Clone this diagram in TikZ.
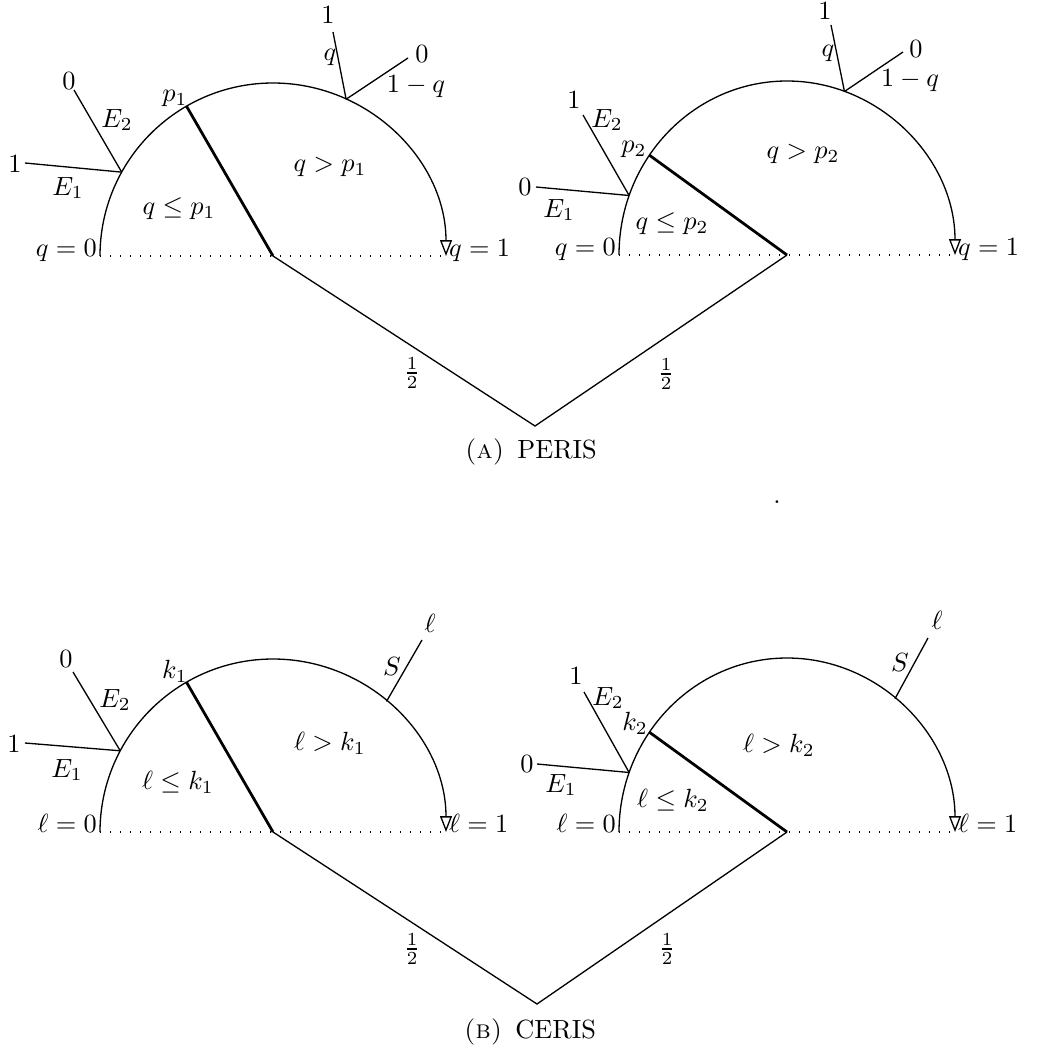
\documentclass[tikz,border=0pt]{standalone}
\usetikzlibrary{calc,arrows.meta}
\begin{document}
\begin{tikzpicture}[x=0.38pt,y=-0.38pt,
  edge/.style={draw,line width=0.5pt},
  cutline/.style={draw,line width=1.05pt},
  baseline line/.style={draw,line width=0.55pt,dash pattern=on 0.55pt off 3.25pt},
  arcarrow/.style={draw,line width=0.5pt,-{Triangle[open,length=6pt,width=4.5pt]}},
  lbl/.style={inner sep=0pt},
  endl/.style={inner sep=1pt},
  captext/.style={inner sep=0pt}]
\useasboundingbox (0,0) rectangle (1044,1053);

% ================= (A) PERIS =================
% --- left tree
\coordinate (C1) at (273,256);
\coordinate (L1) at ($(C1)+(-180:173)$);
\coordinate (R1) at ($(C1)+(0:173)$);
\coordinate (P1) at ($(C1)+(-120:173)$);
\coordinate (EA) at ($(C1)+(-151:173)$);
\coordinate (QA) at ($(C1)+(-65:173)$);
\coordinate (ea1) at (25,163);
\coordinate (ea2) at (74,90);
\coordinate (qa1) at (333,32);
\coordinate (qa2) at (408,58);
\draw[arcarrow] (L1) arc[start angle=-180,end angle=0,radius=173];
\draw[baseline line] (L1) -- (R1);
\draw[cutline] (C1) -- (P1);
\draw[edge] (EA) -- (ea1);
\draw[edge] (EA) -- (ea2);
\draw[edge] (QA) -- (qa1);
\draw[edge] (QA) -- (qa2);
\node[lbl] (na1) at (15,164) {$1$};
\node[lbl] (na2) at (69,81) {$0$};
\node[lbl] (nE1a) at (68,188) {$E_1$};
\node[lbl] (nE2a) at (117,120) {$E_2$};
\node[lbl] (np1) at (175,98) {$p_1$};
\node[lbl] (nle1) at (179,209) {$q\le p_1$};
\node[lbl] (ngt1) at (330,167) {$q>p_1$};
\node[lbl] (nqa1) at (328,15) {$1$};
\node[lbl] (nqla) at (330,57) {$q$};
\node[lbl] (nqa2) at (422,54) {$0$};
\node[lbl] (nqlb) at (416,87) {$1-q$};
\node[endl,anchor=base east] (q0a) at (L1) {$q=0$};
\node[endl,anchor=base west] (q1a) at (R1) {$q=1$};

% --- right tree
\coordinate (C2) at (787,255);
\coordinate (L2) at ($(C2)+(-180:168 and 174)$);
\coordinate (R2) at ($(C2)+(0:168 and 174)$);
\coordinate (P2) at ($(C2)+(-145:168 and 174)$);
\coordinate (EB) at ($(C2)+(-160:168 and 174)$);
\coordinate (QB) at ($(C2)+(-70:168 and 174)$);
\coordinate (eb1) at (536,187);
\coordinate (eb2) at (583,115);
\coordinate (qb1) at (831,25);
\coordinate (qb2) at (903,52);
\draw[arcarrow] (L2) arc[start angle=-180,end angle=0,x radius=168,y radius=174];
\draw[baseline line] (L2) -- (R2);
\draw[cutline] (C2) -- (P2);
\draw[edge] (EB) -- (eb1);
\draw[edge] (EB) -- (eb2);
\draw[edge] (QB) -- (qb1);
\draw[edge] (QB) -- (qb2);
\node[lbl] (nb1) at (525,187) {$0$};
\node[lbl] (nb2) at (574,100) {$1$};
\node[lbl] (nE1b) at (559,210) {$E_1$};
\node[lbl] (nE2b) at (607,120) {$E_2$};
\node[lbl] (np2) at (634,149) {$p_2$};
\node[lbl] (nle2) at (672,224) {$q\le p_2$};
\node[lbl] (ngt2) at (803,154) {$q>p_2$};
\node[lbl] (nqb1) at (825,11) {$1$};
\node[lbl] (nqlc) at (828,53) {$q$};
\node[lbl] (nqb2) at (916,49) {$0$};
\node[lbl] (nqld) at (910,81) {$1-q$};
\node[endl,anchor=base east] (q0b) at (L2) {$q=0$};
\node[endl,anchor=base west] (q1b) at (R2) {$q=1$};

% --- root
\coordinate (V1) at (535,426);
\draw[edge] (C1) -- (V1) -- (C2);
\node[lbl] (hA1) at (412,373) {$\frac{1}{2}$};
\node[lbl] (hA2) at (666,374) {$\frac{1}{2}$};
\node[captext] (capA) at (531,452) {{\scshape (a)}\enskip PERIS};
\node[lbl] (dot) at (777,502) {.};

% ================= (B) CERIS =================
% --- left tree
\coordinate (C3) at (273,832);
\coordinate (L3) at ($(C3)+(-180:173)$);
\coordinate (R3) at ($(C3)+(0:173)$);
\coordinate (K1) at ($(C3)+(-120:173)$);
\coordinate (EC) at ($(C3)+(-152:173)$);
\coordinate (SC) at ($(C3)+(-49:173)$);
\coordinate (ec1) at (25,743);
\coordinate (ec2) at (73,672);
\coordinate (sc) at (422,640);
\draw[arcarrow] (L3) arc[start angle=-180,end angle=0,radius=173];
\draw[baseline line] (L3) -- (R3);
\draw[cutline] (C3) -- (K1);
\draw[edge] (EC) -- (ec1);
\draw[edge] (EC) -- (ec2);
\draw[edge] (SC) -- (sc);
\node[lbl] (nc1) at (14,744) {$1$};
\node[lbl] (nc2) at (66,659) {$0$};
\node[lbl] (nE1c) at (67,770) {$E_1$};
\node[lbl] (nE2c) at (115,700) {$E_2$};
\node[lbl] (nk1) at (175,671) {$k_1$};
\node[lbl] (nle3) at (178,782) {$\ell\le k_1$};
\node[lbl] (ngt3) at (330,743) {$\ell>k_1$};
\node[lbl] (nsc) at (430,623) {$\ell$};
\node[lbl] (nSc) at (392,666) {$S$};
\node[endl,anchor=base east] (l0a) at (L3) {$\ell=0$};
\node[endl,anchor=base west] (l1a) at (R3) {$\ell=1$};

% --- right tree
\coordinate (C4) at (787,832);
\coordinate (L4) at ($(C4)+(-180:168 and 174)$);
\coordinate (R4) at ($(C4)+(0:168 and 174)$);
\coordinate (K2) at ($(C4)+(-145:168 and 174)$);
\coordinate (ED) at ($(C4)+(-160:168 and 174)$);
\coordinate (SD) at ($(C4)+(-50:168 and 174)$);
\coordinate (ed1) at (537,764);
\coordinate (ed2) at (584,692);
\coordinate (sd) at (928,638);
\draw[arcarrow] (L4) arc[start angle=-180,end angle=0,x radius=168,y radius=174];
\draw[baseline line] (L4) -- (R4);
\draw[cutline] (C4) -- (K2);
\draw[edge] (ED) -- (ed1);
\draw[edge] (ED) -- (ed2);
\draw[edge] (SD) -- (sd);
\node[lbl] (nd1) at (527,764) {$0$};
\node[lbl] (nd2) at (576,676) {$1$};
\node[lbl] (nE1d) at (561,785) {$E_1$};
\node[lbl] (nE2d) at (608,698) {$E_2$};
\node[lbl] (nk2) at (635,723) {$k_2$};
\node[lbl] (nle4) at (673,800) {$\ell\le k_2$};
\node[lbl] (ngt4) at (779,745) {$\ell>k_2$};
\node[lbl] (nsd) at (937,620) {$\ell$};
\node[lbl] (nSd) at (900,663) {$S$};
\node[endl,anchor=base east] (l0b) at (L4) {$\ell=0$};
\node[endl,anchor=base west] (l1b) at (R4) {$\ell=1$};

% --- root
\coordinate (V2) at (537,1004);
\draw[edge] (C3) -- (V2) -- (C4);
\node[lbl] (hB1) at (412,949) {$\frac{1}{2}$};
\node[lbl] (hB2) at (667,949) {$\frac{1}{2}$};
\node[captext] (capB) at (530,1032) {{\scshape (b)}\enskip CERIS};
\end{tikzpicture}
\end{document}
